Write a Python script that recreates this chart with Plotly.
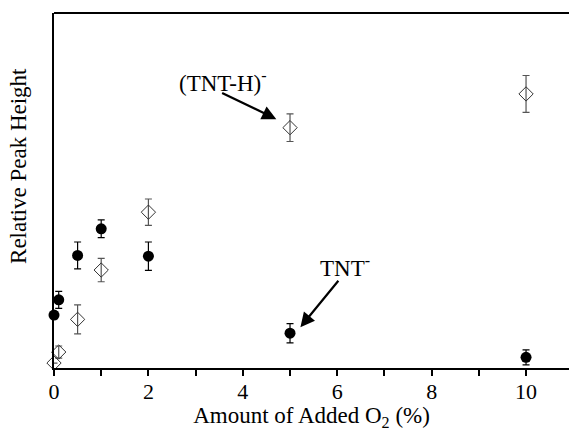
import plotly.graph_objects as go

# Data (relative peak height, arbitrary units 0-100)
o2_pct = [0, 0.1, 0.5, 1, 2, 5, 10]
tnt_anion = [14.9, 19.2, 31.7, 39.2, 31.5, 9.8, 3.0]
tnt_anion_err = [1.0, 2.4, 3.8, 2.5, 4.0, 2.7, 2.1]
tnt_h_anion = [1.4, 4.5, 13.7, 27.6, 43.9, 67.7, 77.2]
tnt_h_anion_err = [0.0, 1.7, 4.1, 3.3, 3.7, 3.9, 5.2]

x_tick_vals = [0, 2, 4, 6, 8, 10]
x_tick_text = ["0", "2", "4", "6", "8", "10"]

FONT = "Liberation Serif, Times New Roman, serif"

fig = go.Figure()

fig.add_trace(go.Scatter(
    x=o2_pct, y=tnt_h_anion, mode="markers", name="(TNT-H)-",
    marker=dict(symbol="diamond-open", size=11, color="#333333",
                line=dict(width=1, color="#333333")),
    error_y=dict(type="data", array=tnt_h_anion_err, visible=True,
                 color="#555555", thickness=1.2, width=3.5),
    cliponaxis=False,
))

fig.add_trace(go.Scatter(
    x=o2_pct, y=tnt_anion, mode="markers", name="TNT-",
    marker=dict(symbol="circle", size=11, color="black"),
    error_y=dict(type="data", array=tnt_anion_err, visible=True,
                 color="black", thickness=1.2, width=3.5),
    cliponaxis=False,
))

fig.add_annotation(x=3.57, y=80.8, text="(TNT-H)<sup>-</sup>", showarrow=False,
                   font=dict(family=FONT, size=23, color="black"))
fig.add_annotation(x=6.17, y=28.7, text="TNT<sup>-</sup>", showarrow=False,
                   font=dict(family=FONT, size=23, color="black"))

# arrows
fig.add_annotation(x=4.71, y=70.1, ax=3.53, ay=77.7, axref="x", ayref="y",
                   xref="x", yref="y", text="", showarrow=True,
                   arrowhead=2, arrowsize=1.3, arrowwidth=2.2, arrowcolor="black")
fig.add_annotation(x=5.22, y=11.5, ax=6.05, ay=25.0, axref="x", ayref="y",
                   xref="x", yref="y", text="", showarrow=True,
                   arrowhead=2, arrowsize=1.3, arrowwidth=2.2, arrowcolor="black")

# y-axis title (placed as annotation so it can sit above centre like the original)
fig.add_annotation(xref="paper", yref="paper", x=-0.07, y=0.569,
                   text="Relative Peak Height", textangle=-90, showarrow=False,
                   xanchor="center", yanchor="middle",
                   font=dict(family=FONT, size=23, color="black"))

# top frame line
fig.add_shape(type="line", xref="paper", yref="paper", x0=0, x1=1, y0=1, y1=1,
              line=dict(color="black", width=2))

fig.update_layout(
    width=569, height=431,
    margin=dict(l=54, r=0, t=13, b=63, pad=0),
    paper_bgcolor="white", plot_bgcolor="white",
    showlegend=False,
    font=dict(family=FONT, color="black"),
    xaxis=dict(
        range=[0, 10.91], showgrid=False, zeroline=False,
        showline=True, linecolor="black", linewidth=2,
        tickmode="array", tickvals=x_tick_vals, ticktext=x_tick_text,
        ticks="outside", ticklen=6, tickwidth=1.5, tickcolor="black",
        ticklabelstandoff=-3,
        tickfont=dict(family=FONT, size=22, color="black"),
        minor=dict(dtick=1, ticks="outside", ticklen=6, tickwidth=1.5,
                   tickcolor="black", showgrid=False),
        title=dict(text="Amount of Added O<sub>2</sub> (%)",
                   font=dict(family=FONT, size=23, color="black"), standoff=4),
    ),
    yaxis=dict(
        range=[0, 100], showgrid=False, zeroline=False,
        showline=True, linecolor="black", linewidth=2,
        showticklabels=False, ticks="",
    ),
)

fig.write_html("out.html", config={"displayModeBar": False},
               post_script="document.body.style.margin='0px';document.body.style.overflow='hidden';")
